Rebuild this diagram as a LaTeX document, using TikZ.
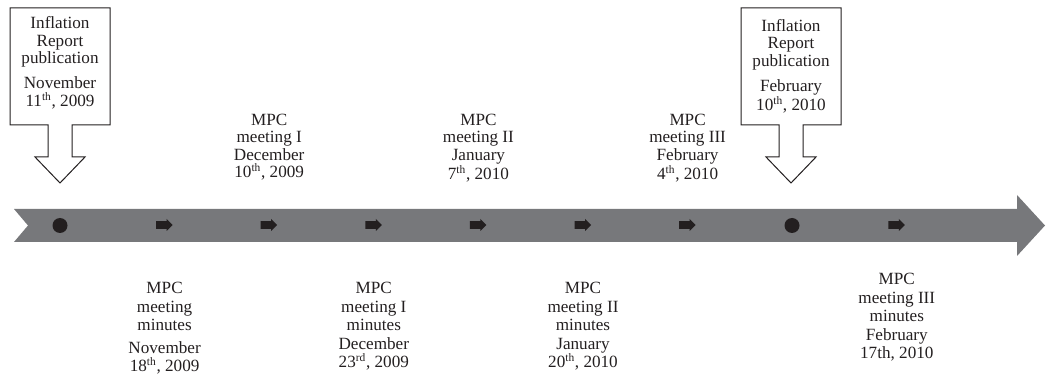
\documentclass[tikz,border=0pt]{standalone}
\usepackage{fontspec}
\setmainfont{Liberation Serif}
\usetikzlibrary{positioning}

\definecolor{gris}{HTML}{77787B}
\definecolor{negro}{HTML}{231F20}

\tikzset{
  etiqueta/.style={align=center, inner sep=0pt, anchor=north,
    font=\fontsize{12}{12.3}\selectfont, text=negro},
  minuta/.style={etiqueta, font=\fontsize{12}{13}\selectfont},
  aviso/.style={draw=negro, line width=0.7pt, fill=white},
}

\begin{document}
\begin{tikzpicture}[x=0.7pt,y=-0.7pt]
	\useasboundingbox (0,0) rectangle (1046,377);
	% Banda del tiempo
	\fill[gris] (14,209) -- (1017,209) -- (1017,195) -- (1045,225.5) -- (1017,256)
		-- (1017,242) -- (14,242) -- (28,225.5) -- cycle;
	% Puntos y flechitas
	\fill[negro] (60,225.5) circle (7.5);
	\fill[negro] (792,225.5) circle (7.5);
	\foreach \i in {1,...,6,8}
		\fill[negro, shift={(60+104.6*\i,225)}] (-8.5,-3.8) -- (2,-3.8) -- (2,-6)
			-- (8,0) -- (2,6) -- (2,3.8) -- (-8.5,3.8) -- cycle;
	% Avisos del Inflation Report
	\foreach \c in {60,791}
		\draw[aviso] (\c-50,8) -- (\c+50,8) -- (\c+50,125) -- (\c+12,125) -- (\c+12,157)
			-- (\c+25,157) -- (\c,183) -- (\c-25,157) -- (\c-12,157) -- (\c-12,125)
			-- (\c-50,125) -- cycle;
	\node[etiqueta] (ir1) at (60,16.5) {Inflation\\Report\\publication\\[5pt]November\\11\textsuperscript{th}, 2009};
	\node[etiqueta] (ir2) at (791,19) {Inflation\\Report\\publication\\[5pt]February\\10\textsuperscript{th}, 2010};
	% Reuniones
	\node[etiqueta] (mpc1) at (269.2,113.5) {MPC\\meeting I\\December\\10\textsuperscript{th}, 2009};
	\node[etiqueta] (mpc2) at (478.4,113.5) {MPC\\meeting II\\January\\7\textsuperscript{th}, 2010};
	\node[etiqueta] (mpc3) at (687.6,113.5) {MPC\\meeting III\\February\\4\textsuperscript{th}, 2010};
	% Minutas
	\node[minuta] (min0) at (164.6,282) {MPC\\meeting\\minutes\\[2.6pt]November\\18\textsuperscript{th}, 2009};
	\node[minuta] (min1) at (373.8,282) {MPC\\meeting I\\minutes\\December\\23\textsuperscript{rd}, 2009};
	\node[minuta] (min2) at (583,282) {MPC\\meeting II\\minutes\\January\\20\textsuperscript{th}, 2010};
	\node[minuta] (min3) at (896.8,273) {MPC\\meeting III\\minutes\\February\\17th, 2010};
\end{tikzpicture}
\end{document}
